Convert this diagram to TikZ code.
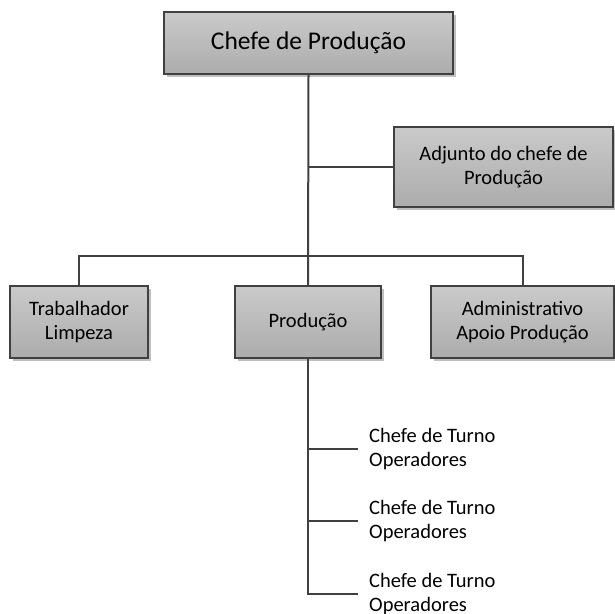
\documentclass[tikz,border=0pt]{standalone}
\usepackage{fontspec}
\setmainfont{Carlito}
\usepackage{tikz}
\usetikzlibrary{shadows}

\definecolor{boxtop}{RGB}{202,202,202}
\definecolor{boxbot}{RGB}{172,172,172}
\definecolor{linegray}{RGB}{64,64,64}

\begin{document}
\begin{tikzpicture}[
  x=1pt, y=-1pt,
  conn/.style={draw=linegray, line width=2pt},
  orgbox/.style={rectangle, draw=linegray, line width=1.5pt,
                 top color=boxtop, bottom color=boxbot,
                 drop shadow={shadow xshift=3pt, shadow yshift=-3pt,
                              opacity=0.25, fill=black},
                 align=center, inner sep=0pt,
                 font=\fontsize{20.5}{23.5}\selectfont},
  turno/.style={anchor=west, align=left, inner xsep=11pt, inner ysep=0pt,
                font=\fontsize{20.5}{24.5}\selectfont},
]
\useasboundingbox (0,0) rectangle (615,613);

%% ===== Top =====
\node[orgbox, minimum width=289pt, minimum height=62pt,
      font=\fontsize{25.5}{28}\selectfont] (chefe) at (308.5,43) {Chefe de Produção};

\node[orgbox, minimum width=219pt, minimum height=80pt] (adjunto) at (503.5,167)
  {Adjunto do chefe de\\Produção};

%% ===== Middle row =====
\node[orgbox, minimum width=138pt, minimum height=72pt] (trab) at (79,322)
  {Trabalhador\\Limpeza};
\node[orgbox, minimum width=146pt, minimum height=72pt] (prod) at (308,322)
  {Produção};
\node[orgbox, minimum width=183pt, minimum height=72pt] (admin) at (522.5,322)
  {Administrativo\\Apoio Produção};

%% ===== Shifts =====
\node[turno] (t1) at (358,449) {Chefe de Turno\\Operadores};
\node[turno] (t2) at (358,521) {Chefe de Turno\\Operadores};
\node[turno] (t3) at (358,594) {Chefe de Turno\\Operadores};

\draw[conn] (chefe.south) -- (prod.north);
\draw[conn] (chefe.south |- adjunto.west) -- (adjunto.west);
\draw[conn] (trab.north) -- ++(0,-29) -| (admin.north);

\draw[conn] (prod.south) -- (prod.south |- t3.west) -- (t3.west);
\draw[conn] (prod.south |- t1.west) -- (t1.west);
\draw[conn] (prod.south |- t2.west) -- (t2.west);

\end{tikzpicture}
\end{document}
